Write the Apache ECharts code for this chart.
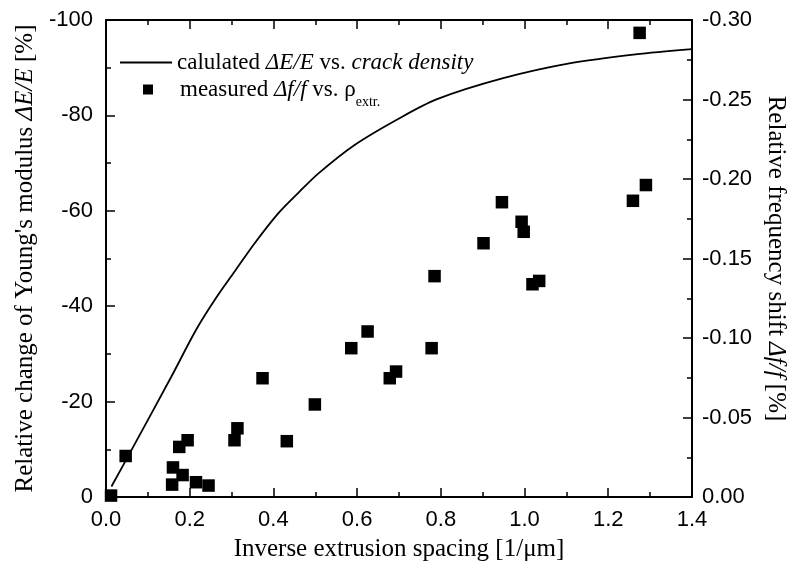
<!DOCTYPE html>
<html>
<head>
<meta charset="utf-8">
<script src="https://cdn.jsdelivr.net/npm/echarts@6/dist/echarts.min.js"></script>
<style>
  html, body { margin: 0; padding: 0; background: #fff; }
  #chart { width: 796px; height: 568px; }
</style>
</head>
<body>
<div id="chart"></div>
<script>
// Calculated Young's modulus change vs. crack density (left axis, %)
const curveX = [0.013, 0.065, 0.156, 0.215, 0.262, 0.31, 0.357, 0.412, 0.46, 0.507, 0.594, 0.697, 0.791, 0.949, 1.107, 1.265, 1.4];
const curveDE = [-2.2, -10.5, -25.2, -35.0, -41.6, -47.6, -53.4, -59.5, -63.8, -67.8, -73.8, -79.2, -83.4, -87.8, -90.9, -92.8, -93.9];

// Measured relative frequency shift vs. inverse extrusion spacing (right axis, %)
const measX = [0.012, 0.047, 0.158, 0.160, 0.175, 0.183, 0.195, 0.215, 0.245, 0.307, 0.314, 0.374, 0.432, 0.499, 0.586, 0.625, 0.678, 0.693, 0.778, 0.785, 0.902, 0.946, 0.993, 0.998, 1.019, 1.035, 1.259, 1.275, 1.290];
const measDf = [-0.0009, -0.0258, -0.0078, -0.0186, -0.0315, -0.0138, -0.0357, -0.0093, -0.0072, -0.0357, -0.0432, -0.0747, -0.0351, -0.0582, -0.0936, -0.1041, -0.0747, -0.0789, -0.0936, -0.1389, -0.1596, -0.1854, -0.1731, -0.1668, -0.1338, -0.1359, -0.1863, -0.2919, -0.1962];

// Axis ranges and tick steps
const xRange = [0, 1.4], xStep = 0.2;
const leftRange = [-100, 0], leftStep = 20;
const rightRange = [-0.30, 0], rightStep = 0.05;

const NAME_CALC = 'calulated ΔE/E vs. crack density';
const NAME_MEAS = 'measured Δf/f vs. ρextr.';

const SANS = '"Liberation Sans", Arial, sans-serif';
const SERIF = '"Liberation Serif", "Times New Roman", serif';

const serifRich = (size) => ({
  n: { fontFamily: SERIF, fontSize: size, color: '#000' },
  i: { fontFamily: SERIF, fontSize: size, fontStyle: 'italic', color: '#000' },
  g: { fontFamily: SERIF, fontSize: size, width: 22 },
  sub: { fontFamily: SERIF, fontSize: 14, color: '#000', padding: [26, 0, 0, 0] }
});

const tickCommon = {
  axisLine: { show: true, onZero: false, lineStyle: { color: '#000', width: 2 } },
  axisTick: { show: true, inside: true, length: 9, lineStyle: { color: '#000', width: 1.5 } },
  minorTick: { show: true, splitNumber: 2, length: 5, lineStyle: { color: '#000', width: 1.5 } },
  splitLine: { show: false },
  minorSplitLine: { show: false }
};

const chart = echarts.init(document.getElementById('chart'), null, { renderer: 'canvas' });

chart.setOption({
  animation: false,
  backgroundColor: '#fff',
  grid: { left: 106, right: 99, top: 20, bottom: 71, containLabel: false },
  legend: [
    {
      data: [NAME_CALC],
      left: 120, top: 51, padding: 0,
      icon: 'rect', itemWidth: 52, itemHeight: 2, symbolKeepAspect: false,
      formatter: () => '{n|calulated }{i|ΔE/E}{n| vs. }{i|crack density}',
      textStyle: { rich: serifRich(23) },
      selectedMode: false
    },
    {
      data: [NAME_MEAS],
      left: 143, top: 78, padding: 0,
      icon: 'rect', itemWidth: 10, itemHeight: 10,
      formatter: () => '{g| }{n|measured }{i|Δf/f}{n| vs. ρ}{sub|extr.}',
      textStyle: { rich: serifRich(23) },
      selectedMode: false
    }
  ],
  xAxis: [
    Object.assign({
      type: 'value', position: 'bottom',
      min: xRange[0], max: xRange[1], interval: xStep,
      name: 'Inverse extrusion spacing [1/μm]',
      nameLocation: 'middle', nameGap: 40,
      nameTextStyle: { fontFamily: SERIF, fontSize: 25, color: '#000' },
      axisLabel: {
        margin: 12, color: '#000', fontFamily: SANS, fontSize: 22,
        formatter: (v) => v.toFixed(1)
      }
    }, tickCommon),
    Object.assign({
      type: 'value', position: 'top',
      min: xRange[0], max: xRange[1], interval: xStep,
      axisLabel: { show: false }
    }, tickCommon)
  ],
  yAxis: [
    Object.assign({
      type: 'value', position: 'left', inverse: true,
      min: leftRange[0], max: leftRange[1], interval: leftStep,
      name: '{n|Relative change of Young\'s modulus }{i|ΔE/E}{n| [%]}',
      nameLocation: 'middle', nameGap: 62,
      nameTextStyle: { fontFamily: SERIF, fontSize: 25, color: '#000', rich: serifRich(25) },
      axisLabel: { margin: 13, color: '#000', fontFamily: SANS, fontSize: 22 }
    }, tickCommon),
    Object.assign({
      type: 'value', position: 'right', inverse: true,
      min: rightRange[0], max: rightRange[1], interval: rightStep,
      name: '{n|Relative frequency shift }{i|Δf/f}{n| [%]}',
      nameLocation: 'middle', nameGap: 67, nameRotate: -90,
      nameTextStyle: { fontFamily: SERIF, fontSize: 25, color: '#000', rich: serifRich(25) },
      axisLabel: {
        margin: 10, color: '#000', fontFamily: SANS, fontSize: 22,
        formatter: (v) => (Math.abs(v) < 1e-9 ? 0 : v).toFixed(2)
      }
    }, tickCommon)
  ],
  series: [
    {
      name: NAME_CALC,
      type: 'line',
      xAxisIndex: 0, yAxisIndex: 0,
      data: curveX.map((x, i) => [x, curveDE[i]]),
      smooth: 0.3,
      symbol: 'none',
      lineStyle: { color: '#000', width: 1.8 },
      itemStyle: { color: '#000' },
      z: 3
    },
    {
      name: NAME_MEAS,
      type: 'scatter',
      xAxisIndex: 0, yAxisIndex: 1,
      data: measX.map((x, i) => [x, measDf[i]]),
      symbol: 'rect',
      symbolSize: 12.5,
      itemStyle: { color: '#000', opacity: 1 },
      clip: false,
      z: 4
    }
  ]
});
</script>
</body>
</html>
